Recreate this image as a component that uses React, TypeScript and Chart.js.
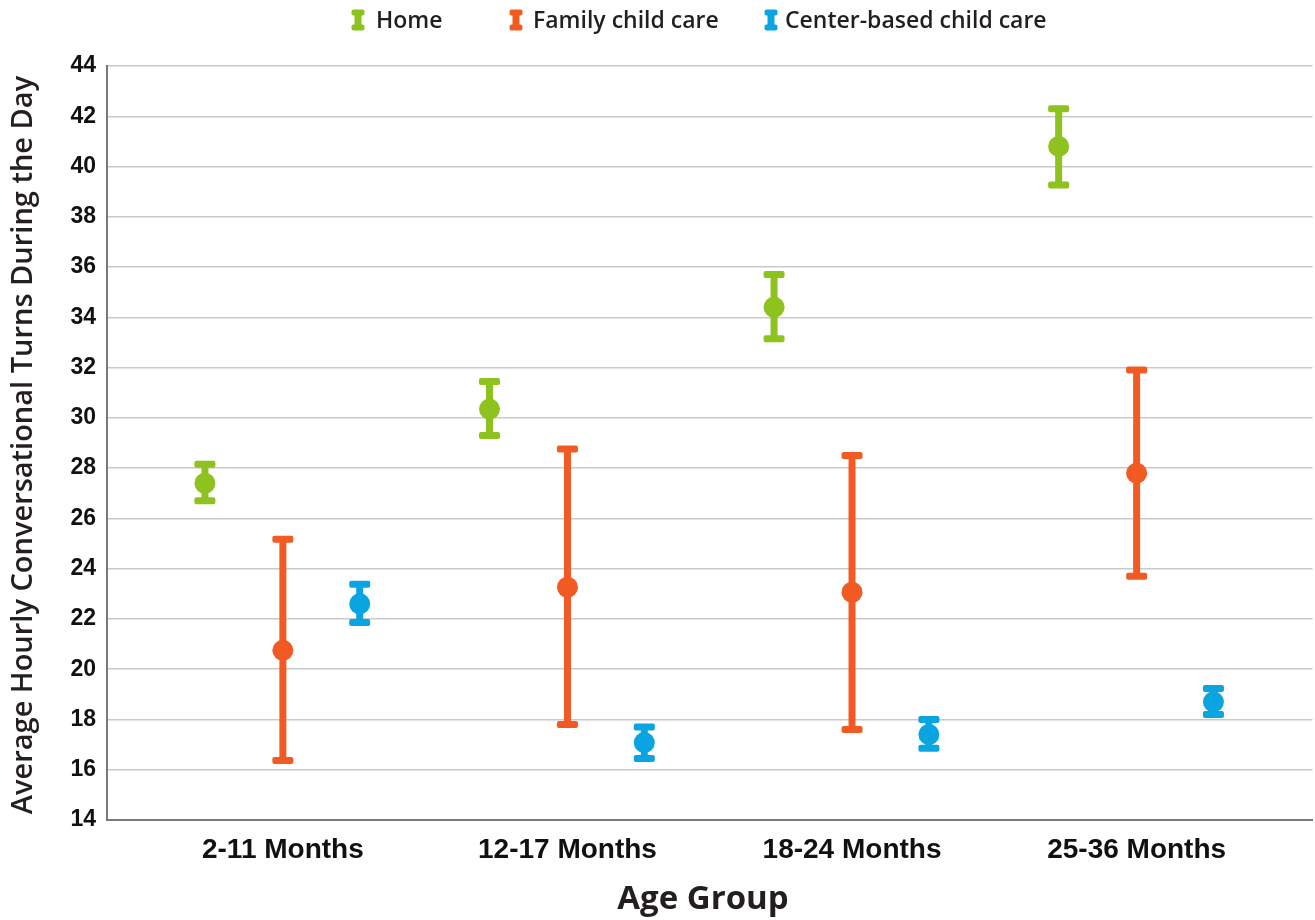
import React, { useEffect, useRef } from "react";
import { Chart, registerables } from "chart.js";

Chart.register(...registerables);

const categories = ["2-11 Months", "12-17 Months", "18-24 Months", "25-36 Months"];
const seriesNames = ["Home", "Family child care", "Center-based child care"];
const seriesColors = ["#8DC21F", "#F15A22", "#0AA5E0"];
const seriesOffsets = [-0.274, 0, 0.27];

const homeMean = [27.4, 30.35, 34.4, 40.8];
const homeLow = [26.7, 29.3, 33.15, 39.27];
const homeHigh = [28.15, 31.45, 35.7, 42.3];

const familyMean = [20.75, 23.26, 23.06, 27.8];
const familyLow = [16.37, 17.8, 17.6, 23.7];
const familyHigh = [25.17, 28.76, 28.5, 31.9];

const centerMean = [22.6, 17.08, 17.4, 18.7];
const centerLow = [21.86, 16.45, 16.85, 18.2];
const centerHigh = [23.38, 17.7, 18.0, 19.23];

const yTicks = [14, 16, 18, 20, 22, 24, 26, 28, 30, 32, 34, 36, 38, 40, 42, 44];

const means = [homeMean, familyMean, centerMean];
const lows = [homeLow, familyLow, centerLow];
const highs = [homeHigh, familyHigh, centerHigh];

const errorBarPlugin = {
  id: "errorBars",
  beforeDatasetsDraw(chart: any) {
    const ctx = chart.ctx;
    const xs = chart.scales.x;
    const ys = chart.scales.y;
    chart.data.datasets.forEach((ds: any) => {
      ctx.save();
      ctx.strokeStyle = ds.backgroundColor;
      ctx.fillStyle = ds.backgroundColor;
      ds.data.forEach((p: any, i: number) => {
        const x = xs.getPixelForValue(p.x);
        const yl = ys.getPixelForValue(ds.errLow[i]);
        const yh = ys.getPixelForValue(ds.errHigh[i]);
        ctx.lineWidth = 7;
        ctx.lineCap = "butt";
        ctx.beginPath();
        ctx.moveTo(x, yl);
        ctx.lineTo(x, yh);
        ctx.stroke();
        const cw = 21;
        const ch = 7;
        ctx.beginPath();
        (ctx as any).roundRect(x - cw / 2, yh - ch / 2, cw, ch, 2);
        (ctx as any).roundRect(x - cw / 2, yl - ch / 2, cw, ch, 2);
        ctx.fill();
      });
      ctx.restore();
    });
  },
  afterDraw(chart: any) {
    const ctx = chart.ctx;
    ctx.save();
    // legend
    const markerX = [358, 516, 771];
    const textX = [376, 533, 785];
    const ly = 20;
    seriesNames.forEach((name, k) => {
      ctx.fillStyle = seriesColors[k];
      const mx = markerX[k];
      ctx.fillRect(mx - 3.5, ly - 8, 7, 16);
      ctx.beginPath();
      (ctx as any).roundRect(mx - 6.5, ly - 10.5, 13, 6, 2);
      (ctx as any).roundRect(mx - 6.5, ly + 4.5, 13, 6, 2);
      ctx.fill();
      ctx.fillStyle = "#231F20";
      ctx.font = "600 23px 'Open Sans'";
      ctx.textAlign = "left";
      ctx.textBaseline = "middle";
      ctx.fillText(name, textX[k], ly + 1);
    });
    // axis titles
    ctx.fillStyle = "#231F20";
    ctx.font = "600 29px 'Open Sans'";
    ctx.textAlign = "center";
    ctx.textBaseline = "middle";
    ctx.save();
    ctx.translate(24, 445);
    ctx.rotate(-Math.PI / 2);
    ctx.fillText("Average Hourly Conversational Turns During the Day", 0, 0);
    ctx.restore();
    ctx.font = "bold 33px 'Open Sans'";
    ctx.fillText("Age Group", 703, 900);
    ctx.restore();
  },
};

export default function App() {
  const ref = useRef<HTMLCanvasElement | null>(null);
  useEffect(() => {
    if (!ref.current) return;
    const datasets = seriesNames.map((name, k) => ({
      label: name,
      data: means[k].map((v, i) => ({ x: i + seriesOffsets[k], y: v })),
      errLow: lows[k],
      errHigh: highs[k],
      backgroundColor: seriesColors[k],
      borderColor: seriesColors[k],
      pointRadius: 10.5,
      pointBorderWidth: 0,
      showLine: false,
    }));
    const chart = new Chart(ref.current, {
      type: "scatter",
      data: { datasets: datasets as any },
      plugins: [errorBarPlugin],
      options: {
        animation: false,
        responsive: false,
        maintainAspectRatio: false,
        layout: { padding: { top: 66, right: 2, left: 0, bottom: 0 } },
        plugins: { legend: { display: false }, tooltip: { enabled: false } },
        scales: {
          x: {
            type: "linear",
            min: -0.618,
            max: 3.618,
            afterFit: (s: any) => {
              s.height = 100;
            },
            afterBuildTicks: (s: any) => {
              s.ticks = categories.map((_, i) => ({ value: i }));
            },
            ticks: {
              autoSkip: false,
              maxRotation: 0,
              padding: 13,
              color: "#111",
              font: { family: "'Liberation Sans', Arial", weight: "bold", size: 28 },
              callback: (v: any) => categories[Math.round(v)] ?? "",
            },
            grid: { display: false, drawTicks: false },
            border: { display: true, color: "#7A7A7A", width: 2 },
          },
          y: {
            min: 14,
            max: 44,
            afterFit: (s: any) => {
              s.width = 107;
            },
            afterBuildTicks: (s: any) => {
              s.ticks = yTicks.map((v) => ({ value: v }));
            },
            ticks: {
              padding: 11,
              color: "#111",
              font: { family: "'Liberation Sans Narrow', 'Liberation Sans'", weight: "bold", size: 23 },
            },
            grid: { color: "#C9C9C9", lineWidth: 1.5, drawTicks: false },
            border: { display: true, color: "#7A7A7A", width: 2 },
          },
        },
      },
    });
    return () => chart.destroy();
  }, []);
  return (
    <div style={{ position: "fixed", left: 0, top: 0, width: 1315, height: 920, background: "#fff", overflow: "hidden" }}>
      <canvas ref={ref} width={1323} height={920} style={{ width: 1323, height: 920 }} />
    </div>
  );
}
